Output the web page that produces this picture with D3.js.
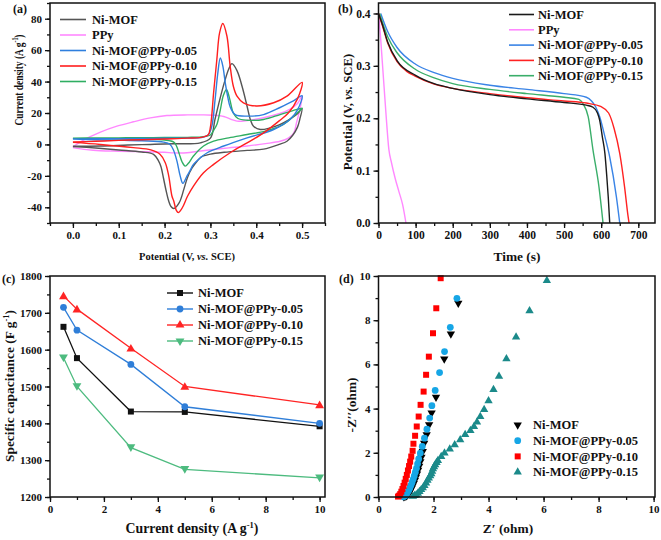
<!DOCTYPE html>
<html><head><meta charset="utf-8">
<script src="https://cdn.jsdelivr.net/npm/d3@7"></script>
<style>
body{margin:0;background:#fff}
svg{display:block}
text{font-family:"Liberation Serif","Times New Roman",serif;font-weight:bold;fill:#111}
</style></head><body>
<svg id="chart" width="661" height="540"></svg>
<script>
// ---------- DATA ----------
const seriesNames = ["Ni-MOF","PPy","Ni-MOF@PPy-0.05","Ni-MOF@PPy-0.10","Ni-MOF@PPy-0.15"];

// (a) CV curves: anodic (forward) and cathodic (reverse) branches [potential V, current A/g]
const cvNiMofUp = [[0,-1.2],[0.06,-1],[0.12,-0.4],[0.169,0],[0.22,0.4],[0.278,1],[0.3,4],[0.31,16],[0.32,28],[0.33,39],[0.34,48],[0.347,51.4],[0.358,47],[0.369,37],[0.38,24.3],[0.387,15.9],[0.394,11.6],[0.409,9.5],[0.43,10.5],[0.45,12.5],[0.47,15.5],[0.49,19.5],[0.5,23]];
const cvNiMofDown = [[0.5,23],[0.495,16],[0.49,11],[0.48,6],[0.467,2],[0.45,0],[0.416,-3],[0.38,-3.8],[0.33,-5],[0.3,-6.2],[0.28,-8],[0.27,-11],[0.26,-15],[0.25,-21],[0.242,-28.6],[0.232,-37],[0.22,-40.8],[0.214,-39.5],[0.209,-36],[0.203,-29],[0.198,-22],[0.192,-14],[0.187,-10.6],[0.176,-6.3],[0.15,-4.8],[0.1,-3.5],[0.05,-2.3],[0,-1.3]];
const cvPPyUp = [[0,-1.5],[0.023,2.7],[0.06,7.8],[0.096,11.6],[0.132,14.4],[0.169,16.9],[0.205,18.4],[0.25,18.8],[0.28,18.8],[0.307,18.6],[0.329,17.8],[0.345,16],[0.358,14.8],[0.38,15.2],[0.416,17],[0.45,19.5],[0.474,22.5],[0.49,26],[0.5,31]];
const cvPPyDown = [[0.5,31],[0.495,22],[0.488,14],[0.482,7.4],[0.47,4],[0.452,2],[0.42,0.5],[0.38,-1],[0.34,-2.2],[0.307,-3.2],[0.27,-4.5],[0.249,-5.3],[0.22,-5.4],[0.2,-5],[0.15,-4.6],[0.1,-4.3],[0.06,-4],[0.03,-3.3],[0,-2]];
const cv005Up = [[0,3.5],[0.05,3.6],[0.1,3.7],[0.15,3.8],[0.2,3.9],[0.25,4],[0.28,4.3],[0.295,6],[0.303,11.6],[0.31,28],[0.316,45],[0.3216,55],[0.327,50],[0.3325,39],[0.338,30],[0.343,24],[0.354,19],[0.38,18],[0.416,19],[0.452,23.5],[0.48,27.5],[0.5,31]];
const cv005Down = [[0.5,31],[0.49,22],[0.474,16],[0.438,9.5],[0.38,4.2],[0.329,-1],[0.293,-5.3],[0.278,-8.5],[0.263,-12.7],[0.255,-17],[0.249,-20],[0.24,-24.8],[0.234,-20],[0.227,-10.6],[0.22,-4],[0.212,0],[0.198,1.5],[0.15,2.3],[0.1,2.7],[0.05,3],[0,3.4]];
const cv010Up = [[0,1.5],[0.05,2],[0.1,2.6],[0.15,3],[0.2,3.5],[0.25,4],[0.28,4.5],[0.295,6],[0.3,11],[0.307,33],[0.314,54],[0.32,71],[0.327,77],[0.336,69],[0.343,50],[0.35,37],[0.358,30.7],[0.372,26.5],[0.4,24.5],[0.438,26.5],[0.467,30.7],[0.5,39.5]];
const cv010Down = [[0.5,39.5],[0.49,29],[0.47,20],[0.45,15],[0.416,7.4],[0.38,1],[0.343,-5.3],[0.307,-12.7],[0.285,-18],[0.263,-26.5],[0.25,-33],[0.241,-39],[0.235,-42],[0.23,-43.4],[0.2256,-42],[0.22,-36],[0.216,-32.8],[0.209,-20],[0.2015,-11.6],[0.19,-6.3],[0.17,-3.5],[0.132,-2],[0.06,0],[0,1.3]];
const cv015Up = [[0,4],[0.05,4.1],[0.1,4.2],[0.15,4.3],[0.2,4.4],[0.25,4.5],[0.28,4.8],[0.3,6],[0.307,9],[0.314,12.7],[0.3216,22],[0.328,31],[0.335,35],[0.342,29],[0.35,20],[0.36,16.5],[0.38,15.4],[0.416,15.9],[0.452,19],[0.48,21.5],[0.5,23]];
const cv015Down = [[0.5,23],[0.489,20],[0.47,15],[0.452,11.6],[0.42,8.5],[0.38,6.3],[0.34,4.2],[0.307,2.1],[0.285,-1],[0.263,-7.4],[0.252,-12],[0.245,-13.8],[0.238,-11],[0.232,-6],[0.226,-1],[0.22,1.5],[0.2,2.8],[0.15,3.3],[0.1,3.6],[0.05,3.8],[0,3.9]];

// (b) GCD discharge curves [time s, potential V]
const gcdNiMof = [[0,0.4],[10,0.38],[25,0.345],[50,0.31],[100,0.282],[150,0.266],[200,0.257],[300,0.245],[400,0.237],[500,0.23],[560,0.225],[578,0.221],[590,0.21],[596,0.196],[603,0.165],[610,0.133],[615,0.09],[619,0.05],[623,0]];
const gcdPPy = [[0,0.4],[5,0.36],[10,0.31],[15,0.26],[20,0.21],[28,0.14],[35,0.115],[45,0.085],[55,0.06],[65,0.035],[74,0]];
const gcd005 = [[6,0.4],[25,0.365],[50,0.335],[100,0.303],[150,0.287],[200,0.276],[300,0.263],[400,0.255],[500,0.247],[560,0.24],[574,0.233],[585,0.222],[596,0.203],[610,0.165],[623,0.126],[641,0.05],[650,0]];
const gcd010 = [[0,0.4],[10,0.378],[25,0.343],[50,0.308],[75,0.29],[100,0.28],[150,0.265],[200,0.257],[300,0.247],[400,0.239],[500,0.233],[560,0.229],[600,0.222],[620,0.21],[635,0.18],[650,0.133],[663,0.069],[672,0.015],[675,0]];
const gcd015 = [[3,0.4],[25,0.355],[50,0.325],[100,0.293],[150,0.277],[200,0.266],[300,0.255],[400,0.247],[500,0.24],[540,0.236],[551,0.228],[565,0.203],[578,0.139],[594,0.069],[605,0]];

// (c) specific capacitance vs current density
const currentDensity = [0.5, 1, 3, 5, 10];
const capNiMof = [1662, 1577, 1432, 1431, 1392];
const cap005 = [1715, 1653, 1560, 1445, 1400];
const cap010 = [1746, 1710, 1604, 1500, 1450];
const cap015 = [1578, 1500, 1334, 1275, 1252];

// (d) Nyquist plots [Z', -Z'']
const eisNiMof = [[0.92,0.01],[0.96,0.02],[1.0,0.05],[1.04,0.09],[1.08,0.14],[1.12,0.21],[1.16,0.29],[1.2,0.39],[1.24,0.5],[1.28,0.62],[1.32,0.75],[1.36,0.9],[1.4,1.05],[1.44,1.22],[1.48,1.4],[1.52,1.6],[1.56,1.8],[1.61,2.06],[1.66,2.44],[1.75,2.82],[1.84,3.27],[1.93,3.8],[2.09,4.52],[2.39,6.25],[2.63,7.38],[2.9,8.77]];
const eis005 = [[0.9,0.01],[0.94,0.03],[0.98,0.07],[1.02,0.13],[1.06,0.21],[1.1,0.3],[1.14,0.41],[1.18,0.53],[1.22,0.66],[1.26,0.8],[1.3,0.95],[1.34,1.12],[1.38,1.3],[1.42,1.5],[1.46,1.72],[1.52,1.99],[1.59,2.29],[1.67,2.66],[1.76,3.07],[1.86,3.57],[1.94,4.13],[2.06,4.82],[2.22,5.63],[2.4,6.58],[2.61,7.68],[2.85,8.99]];
const eis010 = [[0.71,0.02],[0.75,0.06],[0.79,0.13],[0.83,0.24],[0.87,0.36],[0.91,0.5],[0.95,0.65],[0.99,0.82],[1.03,1.0],[1.07,1.2],[1.11,1.4],[1.15,1.6],[1.19,1.83],[1.24,2.09],[1.27,2.41],[1.33,2.77],[1.39,3.19],[1.46,3.64],[1.53,4.17],[1.64,4.77],[1.73,5.53],[1.83,6.35],[1.98,7.41],[2.1,8.54],[2.26,9.9]];
const eis015 = [[1.25,0.03],[1.31,0.06],[1.37,0.1],[1.43,0.17],[1.49,0.25],[1.55,0.33],[1.61,0.41],[1.67,0.52],[1.73,0.63],[1.78,0.75],[1.83,0.86],[1.88,0.96],[1.92,1.05],[1.95,1.16],[1.98,1.27],[2.02,1.37],[2.06,1.46],[2.11,1.56],[2.16,1.65],[2.28,1.83],[2.4,1.99],[2.59,2.17],[2.77,2.36],[2.97,2.59],[3.15,2.82],[3.34,3.01],[3.47,3.19],[3.58,3.39],[3.7,3.64],[3.84,3.96],[4.0,4.35],[4.18,4.86],[4.38,5.46],[4.65,6.25],[5.0,7.24],[5.49,8.42],[6.12,9.79]];

// tick values
const aXTicks = [0, 0.1, 0.2, 0.3, 0.4, 0.5];
const aYTicks = [-40, -20, 0, 20, 40, 60, 80];
const bXTicks = [0, 100, 200, 300, 400, 500, 600, 700];
const bYTicks = [0.0, 0.1, 0.2, 0.3, 0.4];
const cXTicks = [0, 2, 4, 6, 8, 10];
const cYTicks = [1200, 1300, 1400, 1500, 1600, 1700, 1800];
const dXTicks = [0, 2, 4, 6, 8, 10];
const dYTicks = [0, 2, 4, 6, 8, 10];

// ---------- DRAW ----------
const svg = d3.select("#chart");
const FONT = '"Liberation Serif","Times New Roman",serif';

function range(a, b, s) { const r = []; for (let v = a; v <= b + 1e-9; v += s) r.push(+v.toFixed(6)); return r; }

function panel(c) {
  const x = d3.scaleLinear().domain(c.xd).range([c.L, c.R]);
  const y = d3.scaleLinear().domain(c.yd).range([c.B, c.T]);
  const g = svg.append("g");
  const styleAxis = sel => {
    sel.select(".domain").remove();
    sel.selectAll("line").attr("stroke", "#111").attr("stroke-width", 1.3);
    sel.selectAll("text").attr("fill", "#111").style("font-family", FONT).style("font-weight", "bold").style("font-size", c.fs + "px");
  };
  g.append("g").attr("transform", `translate(0,${c.B})`)
    .call(d3.axisBottom(x).tickValues(c.xMinor).tickSize(3).tickFormat("")).call(styleAxis);
  g.append("g").attr("transform", `translate(${c.L},0)`)
    .call(d3.axisLeft(y).tickValues(c.yMinor).tickSize(3).tickFormat("")).call(styleAxis);
  g.append("g").attr("transform", `translate(0,${c.B})`)
    .call(d3.axisBottom(x).tickValues(c.xTicks).tickSize(5).tickPadding(3).tickFormat(c.xFmt)).call(styleAxis);
  g.append("g").attr("transform", `translate(${c.L},0)`)
    .call(d3.axisLeft(y).tickValues(c.yTicks).tickSize(5).tickPadding(3).tickFormat(c.yFmt)).call(styleAxis);
  const plot = g.append("g");
  g.append("rect").attr("x", c.L).attr("y", c.T).attr("width", c.R - c.L).attr("height", c.B - c.T)
    .attr("fill", "none").attr("stroke", "#111").attr("stroke-width", 1.5);
  return { g, plot, x, y };
}

function txt(parent, x, y, s, size, anchor) {
  return parent.append("text").attr("x", x).attr("y", y).attr("font-size", size)
    .attr("text-anchor", anchor || "start").text(s);
}

const fmtSigned = d => String(d);

// ===== Panel (a) =====
const A = panel({ L: 50, R: 325, T: 3, B: 223, xd: [-0.05, 0.55], yd: [-50, 90],
  xTicks: aXTicks, xMinor: range(-0.05, 0.55, 0.05), yTicks: aYTicks, yMinor: range(-50, 90, 10),
  xFmt: d3.format(".1f"), yFmt: fmtSigned, fs: 11 });
const cvColors = ["#555555", "#ff88ff", "#2f7fde", "#ff1f1f", "#2fae62"];
const cvData = [cvNiMofUp.concat(cvNiMofDown.slice(1)), cvPPyUp.concat(cvPPyDown.slice(1)),
  cv005Up.concat(cv005Down.slice(1)), cv010Up.concat(cv010Down.slice(1)), cv015Up.concat(cv015Down.slice(1))];
const cvLine = d3.line().x(d => A.x(d[0])).y(d => A.y(d[1])).curve(d3.curveCatmullRom.alpha(0.5));
const cvOrder = [1, 0, 4, 2, 3];
cvOrder.forEach(i => {
  A.plot.append("path").attr("d", cvLine(cvData[i])).attr("fill", "none")
    .attr("stroke", cvColors[i]).attr("stroke-width", 1.4);
});
seriesNames.forEach((n, i) => {
  const cy = 19.5 + i * 15.5;
  A.g.append("line").attr("x1", 60).attr("x2", 86).attr("y1", cy).attr("y2", cy)
    .attr("stroke", cvColors[i]).attr("stroke-width", 1.6);
  txt(A.g, 92, cy + 4.3, n, 12.5);
});
txt(A.g, 13, 13, "(a)", 12);
{
  // title is horizontally condensed in the reference
  const t = A.g.append("text").attr("transform", "translate(23,80) rotate(-90) scale(0.7,1)").attr("text-anchor", "middle")
    .attr("font-size", 13.5);
  t.append("tspan").text("Current density (A g");
  t.append("tspan").attr("font-size", 8.5).attr("dy", -5.5).text("-1");
  t.append("tspan").attr("dy", 5.5).text(")");
}
{
  const t = A.g.append("text").attr("x", 187).attr("y", 260).attr("text-anchor", "middle").attr("font-size", 10.5);
  t.append("tspan").text("Potential (V, ");
  t.append("tspan").attr("font-style", "italic").text("vs.");
  t.append("tspan").text(" SCE)");
}

// ===== Panel (b) =====
const B = panel({ L: 378.5, R: 655, T: 3, B: 223, xd: [0, 745], yd: [0, 0.42],
  xTicks: bXTicks, xMinor: range(0, 700, 50), yTicks: bYTicks, yMinor: range(0, 0.4, 0.05),
  xFmt: d3.format("d"), yFmt: d3.format(".1f"), fs: 11.5 });
const gcdColors = ["#1a1a1a", "#ff88ff", "#3a84e6", "#ff2222", "#3aae6a"];
const gcdData = [gcdNiMof, gcdPPy, gcd005, gcd010, gcd015];
const gcdLine = d3.line().x(d => B.x(d[0])).y(d => B.y(d[1])).curve(d3.curveMonotoneX);
[1, 2, 4, 3, 0].forEach(i => {
  B.plot.append("path").attr("d", gcdLine(gcdData[i])).attr("fill", "none")
    .attr("stroke", gcdColors[i]).attr("stroke-width", 1.4);
});
seriesNames.forEach((n, i) => {
  const cy = 14.5 + i * 15.3;
  B.g.append("line").attr("x1", 509).attr("x2", 534).attr("y1", cy).attr("y2", cy)
    .attr("stroke", gcdColors[i]).attr("stroke-width", 1.6);
  txt(B.g, 538, cy + 4.3, n, 12.5);
});
txt(B.g, 338, 13, "(b)", 12);
{
  const t = B.g.append("text").attr("transform", "translate(352,112) rotate(-90)").attr("text-anchor", "middle").attr("font-size", 12.8);
  t.append("tspan").text("Potential (V, ");
  t.append("tspan").attr("font-style", "italic").text("vs.");
  t.append("tspan").text(" SCE)");
}
txt(B.g, 517, 261, "Time (s)", 13.4, "middle");

// ===== Panel (c) =====
const C = panel({ L: 50, R: 325, T: 276, B: 497, xd: [0, 10.2], yd: [1200, 1800],
  xTicks: cXTicks, xMinor: range(0, 10, 1), yTicks: cYTicks, yMinor: range(1200, 1800, 50),
  xFmt: d3.format("d"), yFmt: d3.format("d"), fs: 11 });
const capNames = ["Ni-MOF", "Ni-MOF@PPy-0.05", "Ni-MOF@PPy-0.10", "Ni-MOF@PPy-0.15"];
const capData = [capNiMof, cap005, cap010, cap015];
const capLineColors = ["#111111", "#2f7ed8", "#ff2424", "#4dbb7f"];
const capSymbols = [d3.symbolSquare, d3.symbolCircle, d3.symbolTriangle, d3.symbolTriangle];
const capSizes = [36, 36, 34, 34];
const capRot = [0, 0, 0, 180];
const capLine = d3.line().x(d => C.x(d[0])).y(d => C.y(d[1]));
capData.forEach((vals, i) => {
  const pts = currentDensity.map((xv, j) => [xv, vals[j]]);
  C.plot.append("path").attr("d", capLine(pts)).attr("fill", "none").attr("stroke", capLineColors[i]).attr("stroke-width", 1.3);
  pts.forEach(p => {
    C.plot.append("path").attr("d", d3.symbol(capSymbols[i], capSizes[i])())
      .attr("transform", `translate(${C.x(p[0])},${C.y(p[1]) + (capRot[i] ? -0.8 : (i === 2 ? 0.8 : 0))}) rotate(${capRot[i]})`)
      .attr("fill", capLineColors[i]);
  });
});
capNames.forEach((n, i) => {
  const cy = 293 + i * 16;
  C.g.append("line").attr("x1", 167).attr("x2", 193).attr("y1", cy).attr("y2", cy).attr("stroke", capLineColors[i]).attr("stroke-width", 1.4);
  C.g.append("path").attr("d", d3.symbol(capSymbols[i], capSizes[i])())
    .attr("transform", `translate(180,${cy}) rotate(${capRot[i]})`).attr("fill", capLineColors[i]);
  txt(C.g, 198, cy + 4.3, n, 12.5);
});
txt(C.g, 2, 283, "(c)", 12);
{
  const t = C.g.append("text").attr("transform", "translate(14,386) rotate(-90)").attr("text-anchor", "middle").attr("font-size", 13.4);
  t.append("tspan").text("Specific capacitance (F g");
  t.append("tspan").attr("font-size", 8.5).attr("dy", -5).text("-1");
  t.append("tspan").attr("dy", 5).text(")");
}
{
  const t = C.g.append("text").attr("x", 192).attr("y", 533).attr("text-anchor", "middle").attr("font-size", 13.8);
  t.append("tspan").text("Current density (A g");
  t.append("tspan").attr("font-size", 8.5).attr("dy", -5).text("-1");
  t.append("tspan").attr("dy", 5).text(")");
}

// ===== Panel (d) =====
const D = panel({ L: 378.5, R: 655, T: 276, B: 497, xd: [0, 10.05], yd: [0, 10],
  xTicks: dXTicks, xMinor: range(0, 10, 1), yTicks: dYTicks, yMinor: range(0, 10, 1),
  xFmt: d3.format("d"), yFmt: d3.format("d"), fs: 11 });
const eisNames = ["Ni-MOF", "Ni-MOF@PPy-0.05", "Ni-MOF@PPy-0.10", "Ni-MOF@PPy-0.15"];
const eisData = [eisNiMof, eis005, eis010, eis015];
const eisColors = ["#000000", "#16a6e6", "#ff0000", "#1b8a8a"];
const eisSymbols = [d3.symbolTriangle, d3.symbolCircle, d3.symbolSquare, d3.symbolTriangle];
const eisSizes = [30, 36, 36, 30];
const eisRot = [180, 0, 0, 0];
[3, 0, 1, 2].forEach(i => {
  eisData[i].forEach(p => {
    D.plot.append("path").attr("d", d3.symbol(eisSymbols[i], eisSizes[i])())
      .attr("transform", `translate(${D.x(p[0])},${D.y(p[1])}) rotate(${eisRot[i]})`).attr("fill", eisColors[i]);
  });
});
eisNames.forEach((n, i) => {
  const cy = 425 + i * 15.7;
  D.g.append("path").attr("d", d3.symbol(eisSymbols[i], eisSizes[i])())
    .attr("transform", `translate(517.7,${cy}) rotate(${eisRot[i]})`).attr("fill", eisColors[i]);
  txt(D.g, 533, cy + 4.3, n, 12.5);
});
txt(D.g, 339, 283, "(d)", 12);
txt(D.g, 0, 0, "-Z\u2032\u2032(ohm)", 13.4, "middle").attr("transform", "translate(356,405) rotate(-90)");
txt(D.g, 508, 533, "Z\u2032 (ohm)", 13.4, "middle");
</script>
</body></html>
